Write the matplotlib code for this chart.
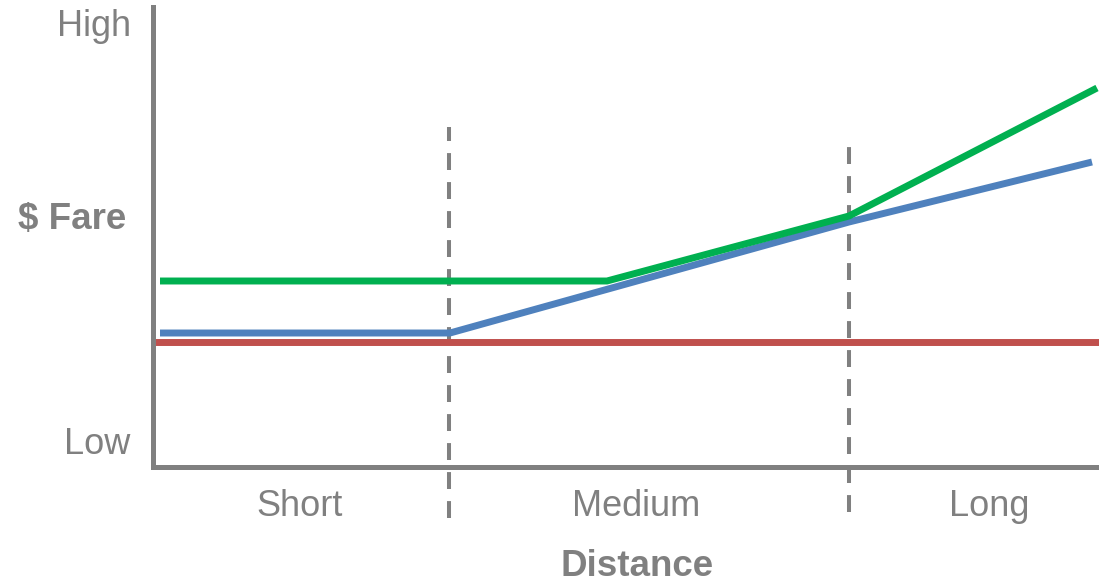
import matplotlib
matplotlib.use("Agg")
import matplotlib.pyplot as plt

plt.rcParams['font.family'] = ['Liberation Sans', 'DejaVu Sans']

GRAY = '#808080'

# fare curves (distance, fare) in arbitrary units
green_x = [0.07, 4.54, 6.96, 9.44]
green_y = [1.86, 1.86, 2.51, 3.79]
blue_x = [0.07, 2.97, 6.96, 9.39]
blue_y = [1.34, 1.34, 2.45, 3.05]
red_x = [0.0, 9.46]
red_y = [1.25, 1.25]

# distance band boundaries
bound_x = [2.96, 6.96]
bound_top = [3.40, 3.21]
bound_bottom = [-0.51, -0.45]

x_ticks = [1.47, 4.83, 8.36]
x_labels = ['Short', 'Medium', 'Long']
y_ticks = [0.27, 2.51, 4.45]
y_labels = ['Low', '$ Fare', 'High']

fig = plt.figure(figsize=(10.99, 5.82), dpi=100)
ax = fig.add_axes([153 / 1099, 115 / 582, 946 / 1099, 460 / 582])

for bx, top, bot in zip(bound_x, bound_top, bound_bottom):
    ax.plot([bx, bx], [bot, top], color=GRAY, lw=2.9, dashes=(4.2, 3.0),
            clip_on=False, zorder=1)

ax.plot(red_x, red_y, color='#C0504D', lw=5, solid_capstyle='butt', zorder=2)
ax.plot(blue_x, blue_y, color='#4F81BD', lw=5, solid_capstyle='butt', zorder=3)
ax.plot(green_x, green_y, color='#00B050', lw=5, solid_capstyle='butt', zorder=4)

ax.set_xlim(0, 9.46)
ax.set_ylim(0, 4.6)

for side in ['top', 'right']:
    ax.spines[side].set_visible(False)
for side in ['left', 'bottom']:
    ax.spines[side].set_color(GRAY)
    ax.spines[side].set_linewidth(3.6)

ax.set_xticks(x_ticks)
ax.set_xticklabels(x_labels)
ax.set_yticks(y_ticks)
ax.set_yticklabels(y_labels)
ax.tick_params(length=0, colors=GRAY, labelsize=26)
ax.tick_params(axis='x', pad=16)
ax.tick_params(axis='y', pad=16)
for lbl in ax.get_yticklabels():
    if lbl.get_text() == '$ Fare':
        lbl.set_fontweight('bold')
        lbl.set_fontsize(26.5)
        lbl.set_x(-0.005)

# axis title sits on its own baseline near the bottom edge
fig.text(637 / 1099, 6 / 582, 'Distance', color=GRAY, fontsize=26.5,
         fontweight='bold', ha='center', va='baseline')

fig.savefig('out.png', dpi=100)
